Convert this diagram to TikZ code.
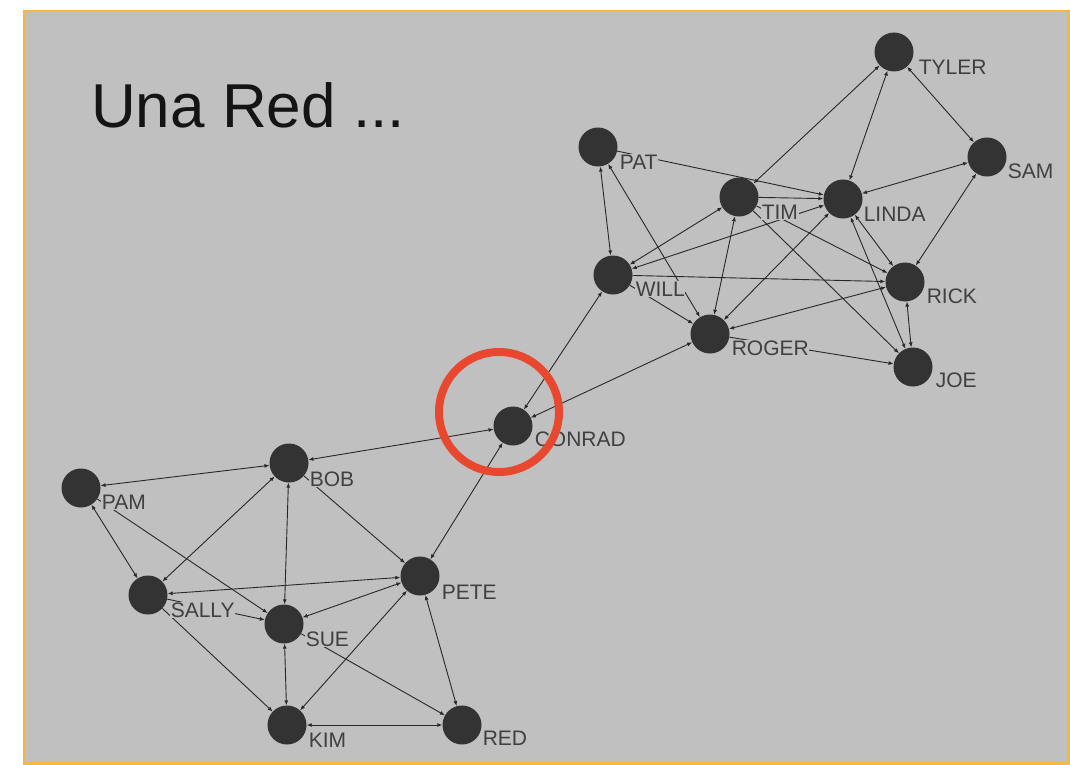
\documentclass[tikz,border=0pt]{standalone}
\usepackage{fontspec}
\setmainfont{Liberation Sans}
\usetikzlibrary{arrows.meta}
\definecolor{panel}{RGB}{192,192,192}
\definecolor{frameorange}{RGB}{245,182,66}
\definecolor{nodegray}{RGB}{51,51,51}
\definecolor{edgegray}{RGB}{40,40,40}
\definecolor{labelgray}{RGB}{64,64,64}
\definecolor{ringred}{RGB}{232,72,48}
\pgfdeclarelayer{back}
\pgfdeclarelayer{links}
\pgfsetlayers{back,links,main}
\tikzset{
  person/.style={circle, fill=nodegray, minimum size=39pt, inner sep=0pt},
  tag/.style={anchor=west, fill=panel, inner sep=0.6pt, text=labelgray,
              font=\fontsize{21}{23}\selectfont},
  link/.style={draw=edgegray, line width=0.9pt},
  both/.style={link, {Latex[length=5pt,width=4pt]}-{Latex[length=5pt,width=4pt]}},
  one/.style={link, -{Latex[length=5pt,width=4pt]}},
}
\begin{document}
\begin{tikzpicture}[x=1pt,y=-1pt]
\useasboundingbox (0,0) rectangle (1070,765);

% panel
\begin{pgfonlayer}{back}
  \fill[white] (0,0) rectangle (1070,765);
  \draw[frameorange, fill=panel, line width=2.5pt] (24,11) rectangle (1068.5,763.5);
\end{pgfonlayer}

\node[anchor=base west, font=\fontsize{62}{68}\selectfont, text=black!92, inner sep=0pt] (title) at (91,128) {Una Red ...};

% people
\node[person] (tyler)  at (894,52)  {};
\node[person] (pat)    at (598,147) {};
\node[person] (sam)    at (987,157) {};
\node[person] (tim)    at (739,197) {};
\node[person] (linda)  at (843,199) {};
\node[person] (will)   at (613,275) {};
\node[person] (rick)   at (905,282) {};
\node[person] (roger)  at (710,334) {};
\node[person] (joe)    at (913,367) {};
\node[person] (conrad) at (513,426) {};
\node[person] (bob)    at (289,463) {};
\node[person] (pam)    at (81,488)  {};
\node[person] (pete)   at (420,576) {};
\node[person] (sally)  at (148,595) {};
\node[person] (sue)    at (284,624) {};
\node[person] (kim)    at (287,725) {};
\node[person] (red)    at (462,725) {};

% names
\node[tag] (tylerL)  at (918,67)  {TYLER};
\node[tag] (patL)    at (619,162) {PAT};
\node[tag] (samL)    at (1007,171){SAM};
\node[tag] (timL)    at (761,212) {TIM};
\node[tag] (lindaL)  at (863,214) {LINDA};
\node[tag] (willL)   at (635,289) {WILL};
\node[tag] (rickL)   at (926,296) {RICK};
\node[tag] (rogerL)  at (731,348) {ROGER};
\node[tag] (joeL)    at (935,380) {JOE};
\node[tag] (conradL) at (534,439) {CONRAD};
\node[tag] (bobL)    at (309,479) {BOB};
\node[tag] (pamL)    at (101,502) {PAM};
\node[tag] (peteL)   at (441,592) {PETE};
\node[tag] (sallyL)  at (170,610) {SALLY};
\node[tag] (sueL)    at (305,639) {SUE};
\node[tag] (kimL)    at (308,740) {KIM};
\node[tag] (redL)    at (482,738) {RED};

% ties
\begin{pgfonlayer}{links}
  % lower group
  \draw[both] (conrad) -- (bob);
  \draw[both] (conrad) -- (pete);
  \draw[both] (bob) -- (pam);
  \draw[both] (pam) -- (sally);
  \draw[one]  (pam) -- (sue);
  \draw[both] (bob) -- (sally);
  \draw[both] (bob) -- (sue);
  \draw[one]  (bob) -- (pete);
  \draw[both] (sally) -- (pete);
  \draw[one]  (sally) -- (sue);
  \draw[one]  (sally) -- (kim);
  \draw[both] (sue) -- (pete);
  \draw[both] (sue) -- (kim);
  \draw[one]  (sue) -- (red);
  \draw[both] (pete) -- (kim);
  \draw[both] (pete) -- (red);
  \draw[both] (kim) -- (red);
  % upper group
  \draw[both] (conrad) -- (will);
  \draw[both] (conrad) -- (roger);
  \draw[both] (tyler) -- (tim);
  \draw[both] (tyler) -- (linda);
  \draw[both] (tyler) -- (sam);
  \draw[one]  (pat) -- (linda);
  \draw[both] (pat) -- (will);
  \draw[both] (pat) -- (roger);
  \draw[both] (will) -- (tim);
  \draw[both] (will) -- (linda);
  \draw[one]  (tim) -- (joe);
  \draw[one]  (tim) -- (rick);
  \draw[both] (tim) -- (roger);
  \draw[one]  (tim) -- (linda);
  \draw[both] (linda) -- (roger);
  \draw[both] (linda) -- (sam);
  \draw[both] (linda) -- (rick);
  \draw[both] (linda) -- (joe);
  \draw[both] (sam) -- (rick);
  \draw[one]  (will) -- (rick);
  \draw[both] (rick) -- (roger);
  \draw[both] (rick) -- (joe);
  \draw[one]  (roger) -- (joe);
  \draw[one]  (will) -- (roger);
\end{pgfonlayer}

% highlight ring
\draw[ringred, line width=8pt] (conrad.center) ++(-14,-14) circle[radius=60];
\end{tikzpicture}
\end{document}
